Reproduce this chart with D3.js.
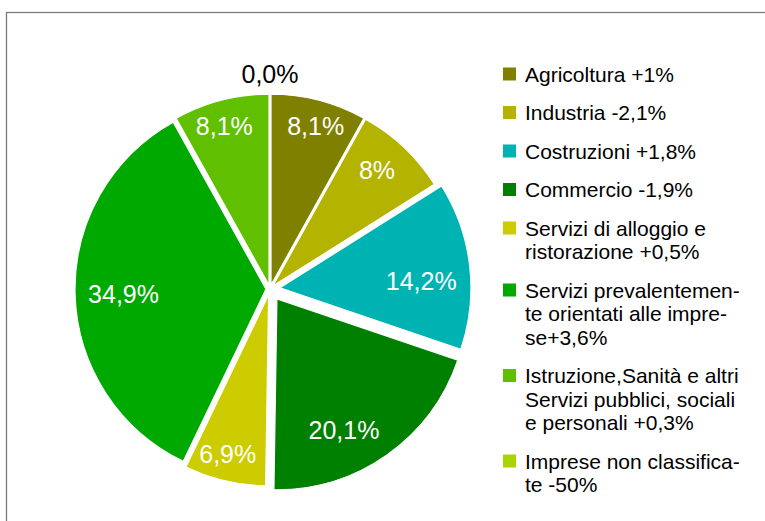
<!DOCTYPE html>
<html>
<head>
<meta charset="utf-8">
<script src="https://cdn.jsdelivr.net/npm/d3@7/dist/d3.min.js"></script>
<style>
  html, body { margin: 0; padding: 0; background: #ffffff; }
  svg { display: block; }
  text { font-family: "Liberation Sans", Arial, sans-serif; }
</style>
</head>
<body>
<svg id="chart" width="765" height="521"></svg>
<script>
// ---- data ----
const categories = [
  "Agricoltura", "Industria", "Costruzioni", "Commercio",
  "Servizi di alloggio e ristorazione", "Servizi prevalentemente orientati alle imprese",
  "Istruzione, Sanità e altri Servizi pubblici, sociali e personali", "Imprese non classificate"
];
const values = [8.1, 8, 14.2, 20.1, 6.9, 34.9, 8.1, 0];
const valueLabels = ["8,1%", "8%", "14,2%", "20,1%", "6,9%", "34,9%", "8,1%", "0,0%"];
const legendLines = [
  ["Agricoltura +1%"],
  ["Industria -2,1%"],
  ["Costruzioni +1,8%"],
  ["Commercio -1,9%"],
  ["Servizi di alloggio e", "ristorazione +0,5%"],
  ["Servizi prevalentemen-", "te orientati alle impre-", "se+3,6%"],
  ["Istruzione,Sanità e altri", "Servizi pubblici, sociali", "e personali +0,3%"],
  ["Imprese non classifica-", "te -50%"]
];

// ---- style ----
const colors = ["#808000", "#b3b300", "#00b3b3", "#008000", "#cccc00", "#00a900", "#60c000", "#aad400"];
const explode = [4, 4, 10, 12, 6, 4, 4, 0]; // px offset of each slice
const cx = 270, cy = 289, R = 191;
const labelFont = 25, legendFont = 21;
const insideAnchor = R - 13, outsideAnchor = R + 10;

const svg = d3.select("#chart");

// frame
svg.append("rect")
  .attr("x", 6.5).attr("y", 12.5)
  .attr("width", 820).attr("height", 600)
  .attr("fill", "none").attr("stroke", "#7a7a7a").attr("stroke-width", 1.3);

const pie = d3.pie().sort(null).value(d => d)
  .startAngle(0).endAngle(2 * Math.PI);
const arcs = pie(values);
const arc = d3.arc().innerRadius(0).outerRadius(R);

const g = svg.append("g").attr("transform", `translate(${cx},${cy})`);

const slices = g.selectAll("g.slice").data(arcs).enter().append("g")
  .attr("class", "slice")
  .attr("transform", (d, i) => {
    const a = (d.startAngle + d.endAngle) / 2;
    return `translate(${Math.sin(a) * explode[i]},${-Math.cos(a) * explode[i]})`;
  });

slices.append("path")
  .attr("d", arc)
  .attr("fill", (d, i) => colors[i])
  .attr("stroke", (d, i) => d.value > 0 ? "#ffffff" : "none")
  .attr("stroke-width", 1.2);

// labels: anchored near the rim, box aligned by direction (LibreOffice-like)
slices.each(function (d, i) {
  const sel = d3.select(this);
  const a = (d.startAngle + d.endAngle) / 2;
  const ux = Math.sin(a), uy = -Math.cos(a);   // screen direction
  const inside = d.value > 0;
  const t = sel.append("text")
    .attr("text-anchor", "middle")
    .attr("font-size", labelFont)
    .attr("fill", inside ? "#ffffff" : "#000000")
    .text(valueLabels[i]);
  const w = t.node().getComputedTextLength();
  const h = labelFont * 1.117;
  const sx = ux > 0.38 ? 1 : (ux < -0.38 ? -1 : 0);
  const up = -uy; // math sin
  const sy = up > 0.38 ? 1 : (up < -0.38 ? -1 : (Math.abs(up) < 0.06 ? 0 : 1));
  const r = inside ? insideAnchor : outsideAnchor;
  const ax = ux * r, ay = uy * r;
  const dir = inside ? -1 : 1;
  const bx = ax + dir * sx * w / 2;
  const by = ay - dir * sy * h / 2;
  t.attr("x", bx).attr("y", by + labelFont * 0.3465);
});

// legend
const lx = 503, ltx = 525, sq = 13, lineH = 23.5, gap = 15;
let ly = 74;
legendLines.forEach((lines, i) => {
  const lg = svg.append("g");
  lg.append("rect")
    .attr("x", lx).attr("y", ly - sq / 2)
    .attr("width", sq).attr("height", sq)
    .attr("fill", colors[i]);
  lines.forEach((ln, j) => {
    lg.append("text")
      .attr("x", ltx).attr("y", ly + j * lineH + legendFont * 0.36)
      .attr("font-size", legendFont)
      .attr("fill", "#000000")
      .text(ln);
  });
  ly += lines.length * lineH + gap;
});
</script>
</body>
</html>
